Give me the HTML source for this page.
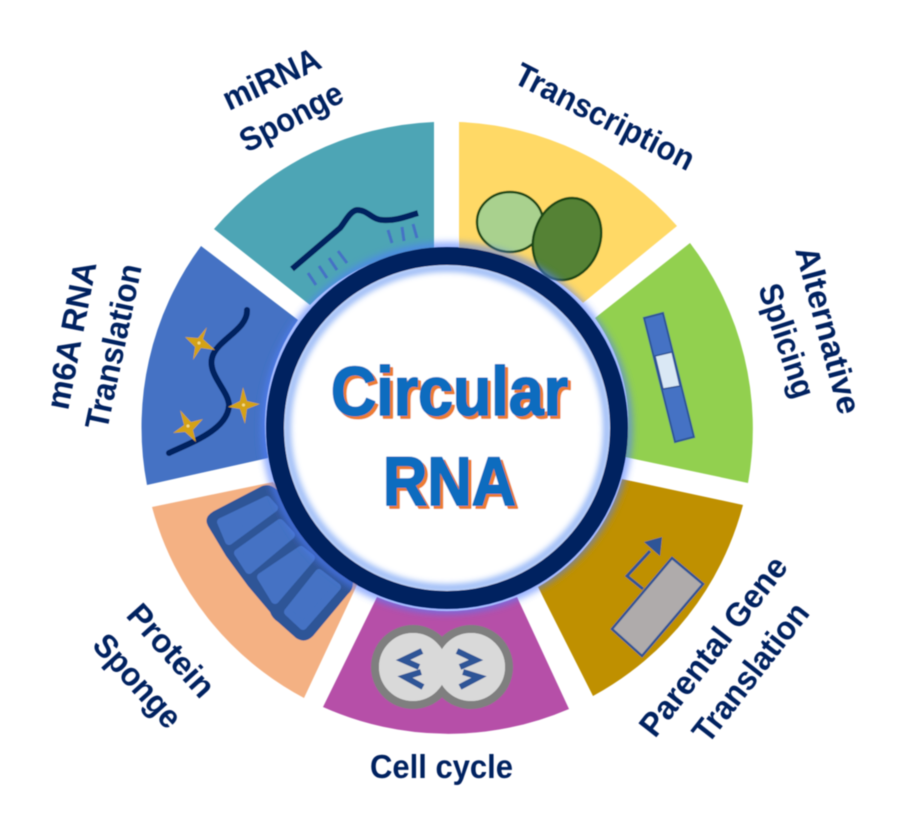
<!DOCTYPE html>
<html><head><meta charset="utf-8"><style>
html,body{margin:0;padding:0;background:#fff;width:900px;height:834px;overflow:hidden}
svg{display:block}
text{font-family:"Liberation Sans",sans-serif;font-weight:700}
.l{font-size:33px;fill:#002060}
</style></head><body>
<svg width="900" height="834" viewBox="0 0 900 834" xmlns="http://www.w3.org/2000/svg">
<defs>
<filter id="b1" x="-20%" y="-20%" width="140%" height="140%"><feGaussianBlur stdDeviation="3.5"/></filter>
<filter id="b2" x="-20%" y="-20%" width="140%" height="140%"><feGaussianBlur stdDeviation="3"/></filter>
<filter id="s" x="-5%" y="-5%" width="110%" height="110%"><feGaussianBlur stdDeviation="0.5"/></filter>
</defs>
<g filter="url(#s)">
<path d="M434 122V250A181 181 0 0 0 310 305L214 229A306 306 0 0 1 434 122Z" fill="#4ea5b5"/>
<path d="M459 122V250A181 181 0 0 1 583 303L677 226A306 306 0 0 0 459 122Z" fill="#ffd966"/>
<path d="M690 243A306 306 0 0 1 748 483L625 457A181 181 0 0 0 595 318Z" fill="#92d050"/>
<path d="M743 505A306 306 0 0 1 593 696L538 587A181 181 0 0 0 622 479Z" fill="#bf9000"/>
<path d="M569 709A306 306 0 0 1 323 707L377 597A181 181 0 0 0 517 597Z" fill="#b64fa8"/>
<path d="M152 507L273 482L357 585L304 698A306 306 0 0 1 152 507Z" fill="#f4b183"/>
<path d="M201 246L298 320A181 181 0 0 0 268 458L147 485A306 306 0 0 1 201 246Z" fill="#4472c4"/>

<!-- miRNA -->
<path d="M292 269L340 228C345 222 350 211 357 210C368 210 372 220 383 220C395 221 405 217 418 213" fill="none" stroke="#002060" stroke-width="6"/>
<g stroke="#4472c4" stroke-width="3" fill="none"><path d="M308 273L316 285M319 266L327 278M329 258L337 270M338 251L347 263M388 230L392 243M402 227L404 241M413 224L417 238"/></g>

<!-- m6A -->
<path d="M169 453C190 443 228 430 229 405C228 390 208 375 212 358C216 340 248 330 247 310" fill="none" stroke="#002060" stroke-width="6" stroke-linecap="round"/>
<g fill="#d4a214">
<path d="M207 327L203 339L215 350L201 348L193 360L195 347L185 337L198 338Z"/>
<path d="M243 387L247 401L260 404L247 409L245 424L240 409L228 407L240 401Z"/>
<path d="M180 410L191 422L203 419L193 430L196 442L185 432L173 433L184 425Z"/>
</g>
<g fill="#f5dc8a"><circle cx="199" cy="343" r="1.500"/><circle cx="243.500" cy="405" r="1.500"/><circle cx="188" cy="426" r="1.500"/></g>

<!-- Transcription -->
<ellipse cx="510" cy="222" rx="33" ry="30" fill="#a9d18e" stroke="#1f4a14" stroke-width="2.5"/>
<ellipse cx="567" cy="239" rx="33" ry="42" transform="rotate(20 567 239)" fill="#548235" stroke="#1f4a14" stroke-width="2.5"/>

<!-- Splicing -->
<path d="M644 318L663 313L694 437L675 442Z" fill="#4472c4" stroke="#2f5597" stroke-width="2"/>
<path d="M655 356L672 352L680 386L663 389Z" fill="#dae8f5" stroke="#2f5597" stroke-width="1.5"/>

<!-- Parental -->
<path d="M672 558L703 584L642 656L612 629Z" fill="#afabab" stroke="#2f5597" stroke-width="2.5"/>
<path d="M643 589L627 576L650 551" fill="none" stroke="#2f5597" stroke-width="3"/>
<path d="M662 537L644 542L660 556Z" fill="#2f5597"/>

<!-- Cell -->
<g fill="#d9d9d9" stroke="#7f7f7f" stroke-width="8">
<circle cx="413" cy="667" r="38"/><circle cx="471" cy="667" r="38"/>
</g>
<g fill="#d9d9d9"><circle cx="413" cy="667" r="34"/><circle cx="471" cy="667" r="34"/></g>
<g fill="none" stroke="#2f5597" stroke-width="6">
<path d="M422 651L403 660L419 667M423 687L405 677L421 672M457 651L476 660L460 667M460 687L479 677L463 672"/>
</g>

<!-- Protein sponge -->
<path d="M208 526Q203 517 214 511L262 486Q270 483 277 490L305 515L352 578Q355 588 348 594L313 636Q305 644 296 638L278 622Q272 618 270 612L248 586L226 556Z" fill="#2f5597"/>
<g fill="#4472c4" stroke="#4472c4" stroke-width="8" stroke-linejoin="round">
<path d="M221 522L267 500L274 508L229 541Z"/>
<path d="M238 553L280 523L291 535L249 570Z"/>
<path d="M261 577L301 550L311 558L275 600Z"/>
<path d="M288 612L319 573L337 587L303 626Z"/>
</g>

<!-- centre -->
<circle cx="447" cy="428" r="181" fill="none" stroke="#4f7dff" stroke-width="10" filter="url(#b1)" opacity=".6"/>
<circle cx="447" cy="428" r="165" fill="#fff"/>
<circle cx="447" cy="428" r="160" fill="none" stroke="#9dbcf7" stroke-width="8" filter="url(#b2)"/>
<circle cx="447" cy="428" r="172" fill="none" stroke="#002060" stroke-width="18"/>

<g style="font-size:69px">
<text x="334" y="418" textLength="237" lengthAdjust="spacingAndGlyphs" fill="#ed7d31" stroke="#ed7d31" stroke-width="2" stroke-linejoin="round">Circular</text>
<text x="331" y="415" textLength="237" lengthAdjust="spacingAndGlyphs" fill="#0b6cbf" stroke="#0b6cbf" stroke-width="2" stroke-linejoin="round">Circular</text>
<text x="386" y="508" textLength="133" lengthAdjust="spacingAndGlyphs" fill="#ed7d31" stroke="#ed7d31" stroke-width="2" stroke-linejoin="round">RNA</text>
<text x="383" y="505" textLength="133" lengthAdjust="spacingAndGlyphs" fill="#0b6cbf" stroke="#0b6cbf" stroke-width="2" stroke-linejoin="round">RNA</text>
</g>

<!-- labels -->
<text class="l" transform="translate(512 82) rotate(27)" textLength="197" lengthAdjust="spacingAndGlyphs">Transcription</text>
<text class="l" transform="translate(229 111) rotate(-25)" textLength="104" lengthAdjust="spacingAndGlyphs">miRNA</text>
<text class="l" transform="translate(247 153) rotate(-28)" textLength="112" lengthAdjust="spacingAndGlyphs">Sponge</text>
<text class="l" transform="translate(68 411) rotate(-79)" textLength="150" lengthAdjust="spacingAndGlyphs">m6A RNA</text>
<text class="l" transform="translate(107 431) rotate(-78)" textLength="168" lengthAdjust="spacingAndGlyphs">Translation</text>
<text class="l" transform="translate(795 250) rotate(75)" textLength="172" lengthAdjust="spacingAndGlyphs">Alternative</text>
<text class="l" transform="translate(758 288) rotate(72)" textLength="118" lengthAdjust="spacingAndGlyphs">Splicing</text>
<text class="l" transform="translate(655 739) rotate(-52)" textLength="218" lengthAdjust="spacingAndGlyphs">Parental Gene</text>
<text class="l" transform="translate(708 745) rotate(-52)" textLength="167" lengthAdjust="spacingAndGlyphs">Translation</text>
<text class="l" x="370" y="778" textLength="143" lengthAdjust="spacingAndGlyphs">Cell cycle</text>
<text class="l" transform="translate(125 616) rotate(48)" textLength="113" lengthAdjust="spacingAndGlyphs">Protein</text>
<text class="l" transform="translate(91 646) rotate(48)" textLength="114" lengthAdjust="spacingAndGlyphs">Sponge</text>
</g>
</svg>
</body></html>
